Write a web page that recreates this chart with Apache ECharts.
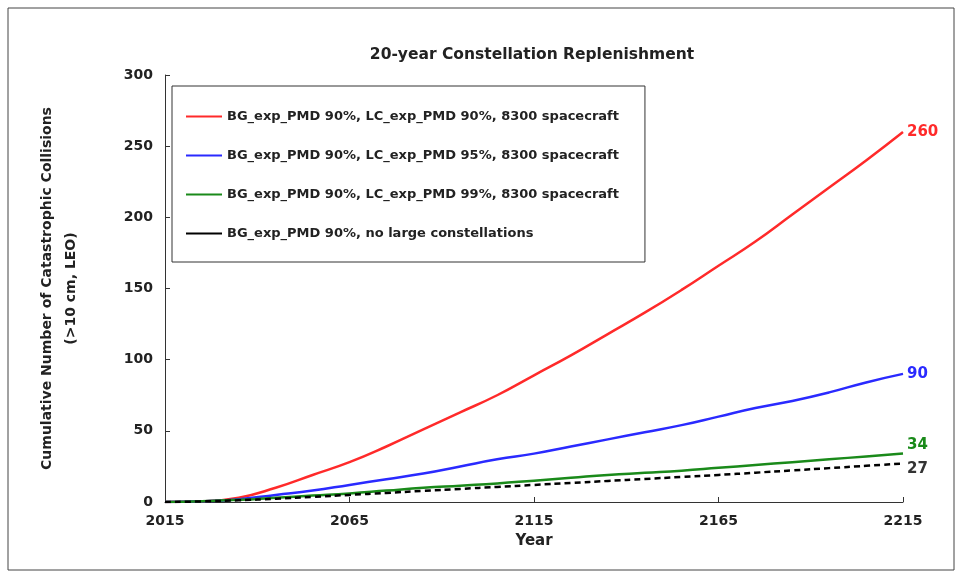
<!DOCTYPE html>
<html><head><meta charset="utf-8">
<script src="https://cdn.jsdelivr.net/npm/echarts@6/dist/echarts.min.js"></script>
<style>body{margin:0;background:#fff}#c{width:960px;height:575px}</style>
</head><body><div id="c"></div>
<script>
const years=[2015,2025,2035,2045,2055,2065,2075,2085,2095,2105,2115,2125,2135,2145,2155,2165,2175,2185,2195,2205,2215];
const red=[0,0.5,3,10,19,28,39,51,63,75,89,103,118,133,149,166,183,202,221,240,260];
const blue=[0,0.5,2,5,8,12,16,20,25,30,34,39,44,49,54,60,66,71,77,84,90];
const green=[0,0.5,1.5,3,4.5,6,8,10,11.5,13,15,17,19,20.5,22,24,26,28,30,32,34];
const black=[0,0.4,1.2,2.3,3.6,5,6.4,7.8,9.2,10.6,12,13.4,14.8,16.2,17.6,19,20.6,22.2,23.8,25.4,27];
const names=['BG_exp_PMD 90%, LC_exp_PMD 90%, 8300 spacecraft','BG_exp_PMD 90%, LC_exp_PMD 95%, 8300 spacecraft','BG_exp_PMD 90%, LC_exp_PMD 99%, 8300 spacecraft','BG_exp_PMD 90%, no large constellations'];
const colors=['#ff2a2a','#2a2aff','#1a8a1a','#000'];
const sets=[red,blue,green,black];
const ch=echarts.init(document.getElementById('c'));
ch.setOption({
 animation:false,
 textStyle:{fontFamily:'DejaVu Sans'},
 title:{text:'20-year Constellation Replenishment',left:527,textAlign:'center',top:42,textStyle:{fontSize:15.5,fontWeight:'bold',color:'#222'}},
 graphic:[{type:'rect',shape:{x:8,y:8,width:946,height:562},style:{fill:'none',stroke:'#444',lineWidth:1}}],
 legend:{orient:'vertical',left:172,top:86,itemGap:26,padding:[24,26,22,14],borderColor:'#333',borderWidth:1,itemWidth:36,itemHeight:2,
   textStyle:{fontSize:13,fontWeight:'bold',color:'#222'},icon:'rect',data:names.map(n=>({name:n}))},
 grid:{left:165,right:57,top:75,bottom:73},
 xAxis:{type:'value',min:2015,max:2215,interval:50,name:'Year',nameLocation:'middle',nameGap:32,nameTextStyle:{fontSize:15,fontWeight:'bold',color:'#222'},
   axisLine:{lineStyle:{color:'#333'}},axisTick:{inside:true,lineStyle:{color:'#333'}},splitLine:{show:false},
   axisLabel:{fontSize:14,fontWeight:'bold',color:'#222',margin:12,formatter:v=>String(v)}},
 yAxis:{type:'value',min:0,max:300,interval:50,name:'Cumulative Number of Catastrophic Collisions\n(>10 cm, LEO)',nameLocation:'middle',nameGap:82,
   nameTextStyle:{fontSize:14,fontWeight:'bold',color:'#222',lineHeight:24},
   axisLine:{show:true,lineStyle:{color:'#333'}},axisTick:{show:true,inside:true,lineStyle:{color:'#333'}},splitLine:{show:false},axisLabel:{fontSize:14,fontWeight:'bold',color:'#222',margin:12}},
 series:sets.map((d,i)=>({name:names[i],type:'line',symbol:'none',smooth:true,data:years.map((y,j)=>[y,d[j]]),
   color:colors[i],lineStyle:{width:2.5,color:colors[i],type:i===3?[6,4]:'solid'},
   endLabel:{show:true,formatter:p=>p.value[1],color:i===3?'#333':colors[i],fontSize:15,fontWeight:'bold',distance:4,offset:[0,i===2?-8:(i===3?6:0)]}}))
});
</script></body></html>
